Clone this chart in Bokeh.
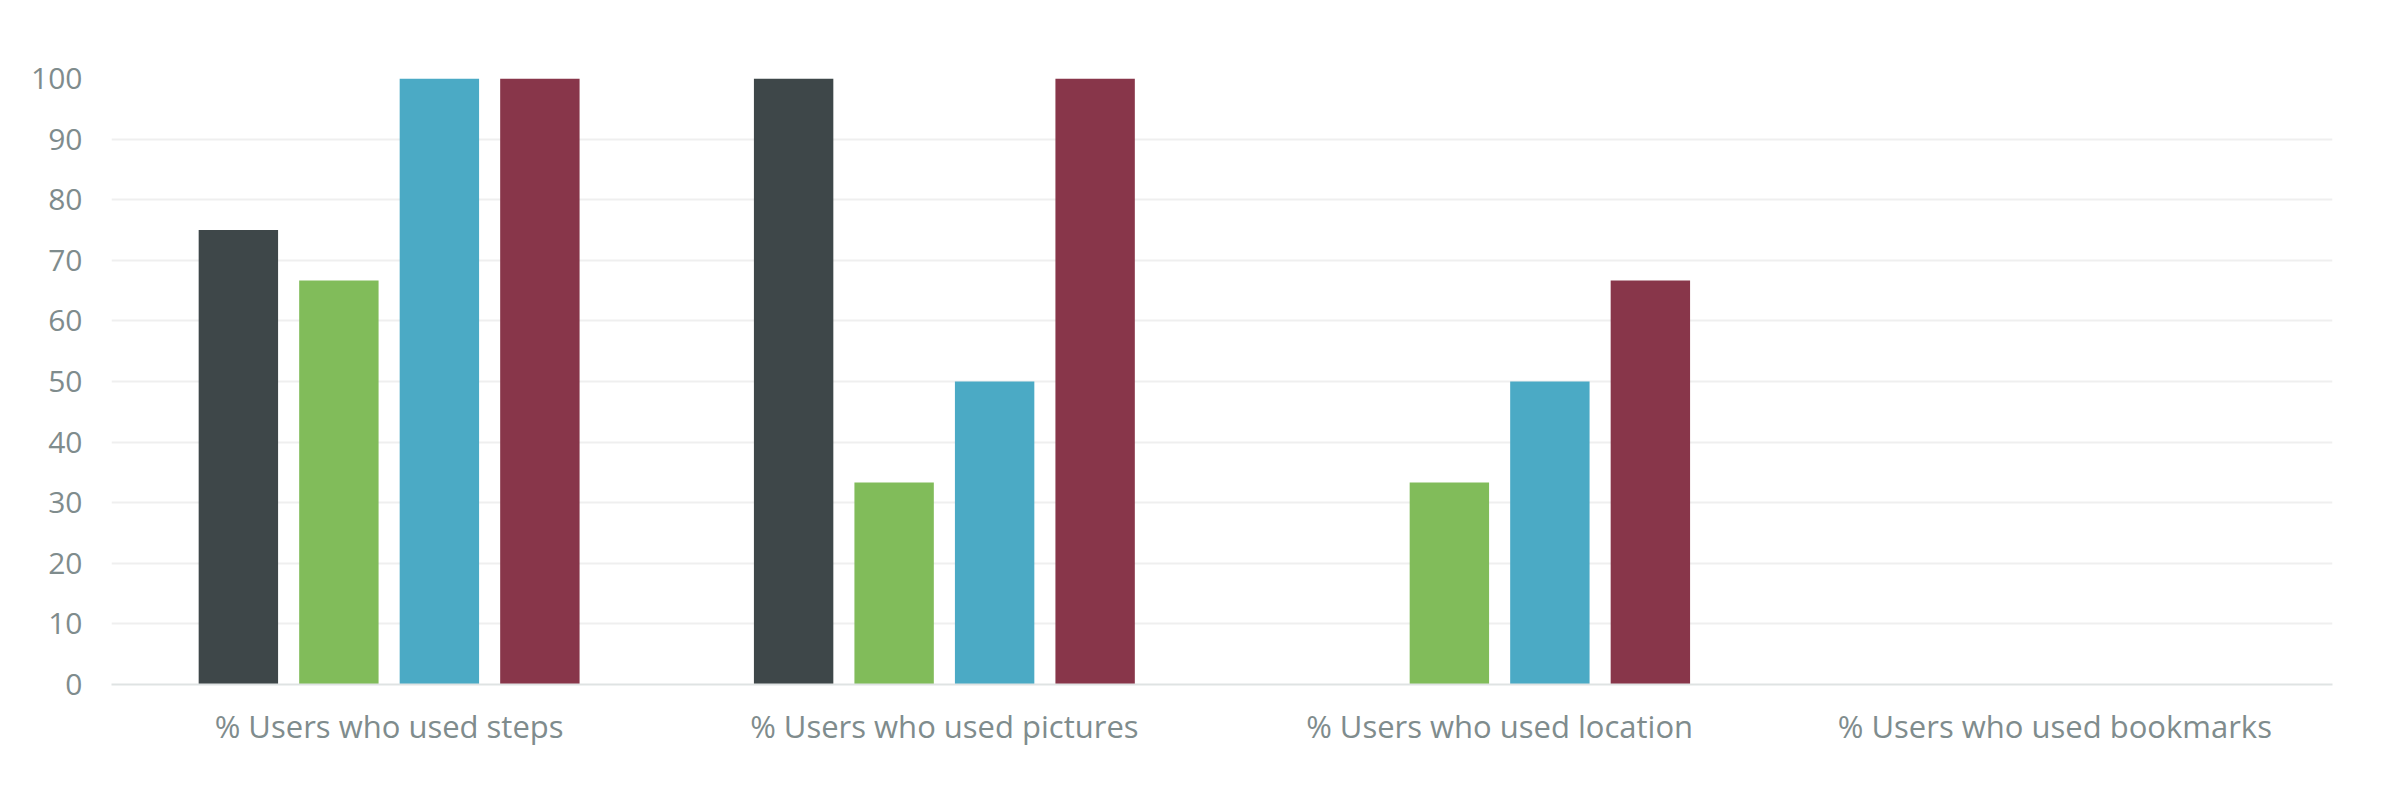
from bokeh.plotting import figure
from bokeh.models import ColumnDataSource, FactorRange, Range1d, FixedTicker
from bokeh.transform import dodge
from bokeh.embed import file_html
from bokeh.resources import INLINE

categories = ["% Users who used steps", "% Users who used pictures",
              "% Users who used location", "% Users who used bookmarks"]
series_names = ["s1", "s2", "s3", "s4"]
s1 = [75, 100, 0, 0]
s2 = [66.67, 33.33, 33.33, 0]
s3 = [100, 50, 50, 0]
s4 = [100, 100, 66.67, 0]
colors = ["#3e4749", "#81bc5a", "#4baac5", "#88364a"]
y_ticks = [0, 10, 20, 30, 40, 50, 60, 70, 80, 90, 100]

source = ColumnDataSource(data=dict(cat=categories, s1=s1, s2=s2, s3=s3, s4=s4))

p = figure(x_range=FactorRange(*categories), y_range=Range1d(0, 100),
           width=2374, height=778, output_backend="svg", toolbar_location=None,
           min_border_left=111, min_border_right=42, min_border_top=78, min_border_bottom=94)

offsets = [-0.2715, -0.0905, 0.0905, 0.2715]
for name, off, col in zip(series_names, offsets, colors):
    p.vbar(x=dodge("cat", off, range=p.x_range), top=name, width=0.143,
           source=source, fill_color=col, line_color=None)

p.outline_line_color = None
p.x_range.range_padding = 0
p.yaxis.ticker = FixedTicker(ticks=y_ticks)
p.ygrid.grid_line_color = "#efefef"
p.ygrid.grid_line_width = 2
p.xgrid.grid_line_color = None

font = "Open Sans"
for ax in (p.xaxis, p.yaxis):
    ax.major_label_text_font = font
    ax.major_label_text_color = "#7f8c8d"
    ax.major_tick_line_color = None
    ax.minor_tick_line_color = None
p.xaxis.major_label_text_font_size = "31px"
p.yaxis.major_label_text_font_size = "30px"
p.yaxis.axis_line_color = None
p.yaxis.major_label_standoff = 23
p.xaxis.axis_line_color = "#dfe3e3"
p.xaxis.axis_line_width = 2
p.xaxis.major_label_standoff = 14

open("out.html", "w").write(file_html(p, INLINE))
